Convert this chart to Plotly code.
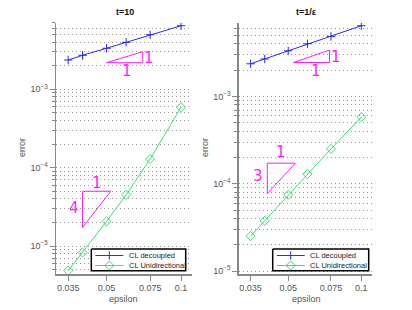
import numpy as np
import plotly.graph_objects as go

# ---- data ----
eps = [0.035, 0.04, 0.05, 0.06, 0.075, 0.1]
err_dec_t10 = [2.36e-3, 2.71e-3, 3.33e-3, 3.97e-3, 4.96e-3, 6.46e-3]
err_uni_t10 = [4.84e-6, 8.28e-6, 2.06e-5, 4.5e-5, 1.29e-4, 5.9e-4]
err_dec_tinv = [2.37e-3, 2.69e-3, 3.34e-3, 4.02e-3, 4.88e-3, 6.47e-3]
err_uni_tinv = [2.51e-5, 3.76e-5, 7.46e-5, 1.29e-4, 2.51e-4, 5.8e-4]

xtick_vals = [0.035, 0.05, 0.075, 0.1]
xtick_text = ["0.035", "0.05", "0.075", "0.1"]
ytick_vals = [1e-5, 1e-4, 1e-3]
ytick_text = ["10<sup>\u22125</sup>", "10<sup>\u22124</sup>", "10<sup>\u22123</sup>"]

titles = ["t=10", "t=1/\u03b5"]
series_names = ["CL decoupled", "CL Unidirectional"]

# slope triangles (data coords)
tri1_x = [0.05, 0.07, 0.07, 0.05]
tri1_y = [2.18e-3, 3.01e-3, 2.18e-3, 2.18e-3]
tri2_x = [0.04, 0.052, 0.04, 0.04]
tri2_y = [5e-5, 5e-5, 1.72e-5, 5e-5]
tri3_x = [0.0525, 0.074, 0.074, 0.0525]
tri3_y = [2.45e-3, 3.4e-3, 2.45e-3, 2.45e-3]
tri4_x = [0.041, 0.0535, 0.041, 0.041]
tri4_y = [1.72e-4, 1.72e-4, 7.7e-5, 1.72e-4]

# slope labels: (text, x, y, axis index)
tri_labels = [
    ("1", 0.0745, 2.48e-3, 1), ("1", 0.0607, 1.71e-3, 1),
    ("1", 0.0456, 6.4e-5, 1), ("4", 0.0369, 3.1e-5, 1),
    ("1", 0.0785, 2.83e-3, 2), ("1", 0.0651, 1.97e-3, 2),
    ("1", 0.0465, 2.32e-4, 2), ("3", 0.0377, 1.24e-4, 2),
]

BLUE = "#2a2aff"
GREEN = "#3ddc78"
MAG = "#ff1aff"
W, H = 412, 310

fig = go.Figure()

def add_panel(i, dec, uni):
    xa = "x" if i == 1 else "x2"
    ya = "y" if i == 1 else "y2"
    fig.add_trace(go.Scatter(x=eps, y=dec, mode="lines+markers", name=series_names[0],
                             line=dict(color=BLUE, width=1),
                             marker=dict(symbol="cross-thin", size=6, line=dict(color=BLUE, width=1)),
                             xaxis=xa, yaxis=ya, showlegend=False))
    fig.add_trace(go.Scatter(x=eps, y=uni, mode="lines+markers", name=series_names[1],
                             line=dict(color=GREEN, width=1),
                             marker=dict(symbol="diamond-open", size=7, color=GREEN, line=dict(width=1)),
                             xaxis=xa, yaxis=ya, showlegend=False))

add_panel(1, err_dec_t10, err_uni_t10)
add_panel(2, err_dec_tinv, err_uni_tinv)

for tx, ty, ax in [(tri1_x, tri1_y, 1), (tri2_x, tri2_y, 1), (tri3_x, tri3_y, 2), (tri4_x, tri4_y, 2)]:
    fig.add_trace(go.Scatter(x=tx, y=ty, mode="lines", line=dict(color=MAG, width=1),
                             showlegend=False, hoverinfo="skip",
                             xaxis="x" if ax == 1 else "x2", yaxis="y" if ax == 1 else "y2"))

annotations = []
for txt, lx, ly, ax in tri_labels:
    annotations.append(dict(text=txt, x=np.log10(lx), y=np.log10(ly),
                            xref="x" if ax == 1 else "x2", yref="y" if ax == 1 else "y2",
                            showarrow=False, font=dict(size=15, color=MAG, family="DejaVu Sans")))

# ---- custom legends (overlay pixel axis) ----
legend_boxes = [(91.3, 249.0, 185.7, 270.7), (272.7, 249.0, 368.7, 270.7)]
for (x0, y0, x1, y1) in legend_boxes:
    fig.add_trace(go.Scatter(x=[x0, x1, x1, x0, x0], y=[y0, y0, y1, y1, y0], mode="lines",
                             fill="toself", fillcolor="white", line=dict(color="black", width=1.5),
                             showlegend=False, hoverinfo="skip", xaxis="x3", yaxis="y3"))
    lx0 = x0 + 4
    lx1 = x0 + 32
    rows = [y0 + 6.5, y0 + 16.5]
    styles = [(BLUE, "cross-thin", 6), (GREEN, "diamond-open", 7)]
    for (col, sym, sz), ry, name in zip(styles, rows, series_names):
        fig.add_trace(go.Scatter(x=[lx0, lx1], y=[ry, ry], mode="lines", line=dict(color=col, width=1),
                                 showlegend=False, hoverinfo="skip", xaxis="x3", yaxis="y3"))
        fig.add_trace(go.Scatter(x=[(lx0 + lx1) / 2], y=[ry], mode="markers",
                                 marker=dict(symbol=sym, size=sz, color=col, line=dict(color=col, width=1)),
                                 showlegend=False, hoverinfo="skip", xaxis="x3", yaxis="y3"))
        annotations.append(dict(text=name, x=(x0 + 35.5) / W, y=1 - ry / H, xref="paper", yref="paper",
                                xanchor="left", yanchor="middle", showarrow=False,
                                font=dict(family="Liberation Sans, Arial", size=7.5, color="#222222")))

font_ax = dict(family="Liberation Sans, Arial", size=9, color="#555555")

def xaxis_cfg(domain):
    return dict(type="log", domain=domain, range=[-1.505, -0.956],
                tickvals=xtick_vals, ticktext=xtick_text, tickfont=font_ax,
                showline=True, linecolor="#888888", linewidth=1.5,
                ticks="outside", ticklen=5, tickcolor="#888888",
                showgrid=False, zeroline=False, automargin=False)

def yaxis_cfg(domain, rng):
    return dict(type="log", domain=domain, range=rng,
                tickvals=ytick_vals, ticktext=ytick_text, tickfont=font_ax,
                showline=True, linecolor="#888888", linewidth=1.5,
                ticks="outside", ticklen=5, tickcolor="#888888",
                showgrid=True, gridcolor="#999999", griddash="1px,3px", gridwidth=1,
                minor=dict(dtick="D1", ticks="outside", ticklen=3, tickcolor="#888888",
                           showgrid=True, gridcolor="#999999", griddash="1px,3px", gridwidth=1),
                zeroline=False, automargin=False)

xd1 = [56 / W, 192 / W]
xd2 = [238.7 / W, 372 / W]
yd = [1 - 274 / H, 1 - 23 / H]

xa1 = xaxis_cfg(xd1); xa1["anchor"] = "y"
xa2 = xaxis_cfg(xd2); xa2["anchor"] = "y2"
ya1 = yaxis_cfg(yd, [-5.357, -2.155]); ya1["anchor"] = "x"
ya2 = yaxis_cfg(yd, [-5.034, -2.158]); ya2["anchor"] = "x2"

xa3 = dict(domain=[0, 1], range=[0, W], visible=False, anchor="y3", automargin=False, fixedrange=True)
ya3 = dict(domain=[0, 1], range=[H, 0], visible=False, anchor="x3", automargin=False, fixedrange=True)

# titles and axis labels
for t, cx in zip(titles, [125, 306]):
    annotations.append(dict(text="<b>" + t + "</b>", x=cx / W, y=1 - 12 / H, xref="paper", yref="paper",
                            xanchor="center", yanchor="middle",
                            showarrow=False, font=dict(family="Liberation Sans, Arial", size=9, color="#111111")))
for cx in [124, 306]:
    annotations.append(dict(text="epsilon", x=cx / W, y=1 - 299 / H, xref="paper", yref="paper",
                            xanchor="center", yanchor="middle",
                            showarrow=False, font=dict(family="Liberation Sans, Arial", size=9, color="#555555")))
for cx in [22, 205]:
    annotations.append(dict(text="error", x=cx / W, y=1 - 148 / H, xref="paper", yref="paper",
                            xanchor="center", yanchor="middle",
                            textangle=-90, showarrow=False,
                            font=dict(family="Liberation Sans, Arial", size=9, color="#555555")))

fig.update_layout(
    width=W, height=H, margin=dict(l=0, r=0, t=0, b=0, autoexpand=False),
    paper_bgcolor="white", plot_bgcolor="rgba(0,0,0,0)",
    xaxis=xa1, yaxis=ya1, xaxis2=xa2, yaxis2=ya2, xaxis3=xa3, yaxis3=ya3,
    annotations=annotations,
    showlegend=False,
)

fig.write_html("out.html", config={"displayModeBar": False, "staticPlot": True},
               post_script="document.body.style.margin='0';document.body.style.overflow='hidden';")
